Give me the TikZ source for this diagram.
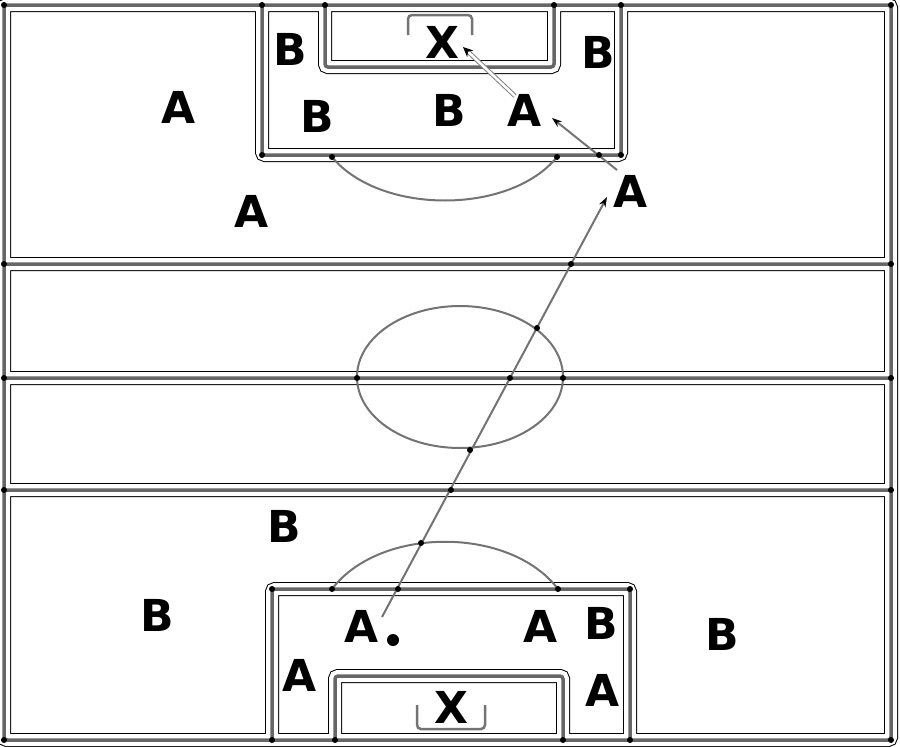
\documentclass[tikz,border=0pt]{standalone}
\usepackage{fontspec}
\setmainfont{DejaVu Sans}
\usetikzlibrary{arrows.meta}

% lines of the pitch, drawn three times (outline, gap, chalk)
\newcommand{\pitchlines}{(4,5) rectangle (891,740)
  (4,264) -- (891,264) (4,378) -- (891,378) (4,490) -- (891,490)
  (262,5) -- (262,155) -- (621,155) -- (621,5)
  (325,5) -- (325,67) -- (554,67) -- (554,5)
  (272,740) -- (272,589) -- (630,589) -- (630,740)
  (335,740) -- (335,676) -- (563,676) -- (563,740)}

\tikzset{
  player/.style={font=\fontsize{44}{44}\selectfont\bfseries, inner sep=0pt},
  chalk/.style={draw=black!55, line width=2pt},
  pass/.style={chalk, -{Stealth[length=10pt,width=7pt,black]}},
  shot/.style={draw=black!50, line width=1pt, double=white, double distance=2.5pt,
    -{Stealth[length=10pt,width=9pt,black]}},
}

\begin{document}
\begin{tikzpicture}[x=1pt,y=-1pt]
  \useasboundingbox (0,0) rectangle (900,747);

  \draw[line width=14pt, rounded corners=3pt] \pitchlines;
  \draw[white, line width=12pt, rounded corners=3pt] \pitchlines;
  \draw[black!60, line width=3.5pt, rounded corners=3pt] \pitchlines;

  % centre circle and the two arcs
  \draw[chalk] (460,377) ellipse [x radius=103pt, y radius=71pt];
  \draw[chalk] (332,157) .. controls (380,215) and (510,215) .. (557,157);
  \draw[chalk] (332,589) .. controls (380,526) and (510,526) .. (558,589);

  % goals
  \draw[black!55, line width=2.5pt, rounded corners=4pt] (408,35) -- (408,15) -- (472,15) -- (472,35);
  \draw[black!55, line width=2.5pt, rounded corners=4pt] (417,705) -- (417,729) -- (485,729) -- (485,705);

  % top half
  \node[player] (xtop) at (442,42) {X};
  \node[player] (b1) at (290,49) {B};
  \node[player] (b2) at (598,52) {B};
  \node[player] (b3) at (317,116) {B};
  \node[player] (b4) at (449,110) {B};
  \node[player] (a1) at (525,110) {A};
  \node[player] (a2) at (631,191) {A};
  \node[player] (a3) at (179,107) {A};
  \node[player] (a4) at (252,211) {A};

  % bottom half
  \node[player] (xbot) at (451,707) {X};
  \node[player] (b5) at (284,526) {B};
  \node[player] (b6) at (157,615) {B};
  \node[player] (b7) at (601,623) {B};
  \node[player] (b8) at (722,634) {B};
  \node[player] (a5) at (362,626) {A};
  \node[player] (a6) at (541,626) {A};
  \node[player] (a7) at (300,675) {A};
  \node[player] (a8) at (603,690) {A};
  \node[circle, fill=black, minimum size=12pt, inner sep=0pt] (ball) at (393,640) {};

  % passes
  \coordinate (kick) at (382,617);
  \coordinate (recv) at (607,197);
  \coordinate (lay) at (617,170);
  \coordinate (layend) at (552,118);
  \coordinate (goal) at (463,47);
  \draw[pass] (kick) -- (recv);
  \draw[pass] (lay) -- (layend);
  \draw[shot] (515,96) -- (goal);

  % junction dots
  \foreach \p in {(4,5),(891,5),(4,740),(891,740),(4,264),(891,264),(4,378),(891,378),
    (4,490),(891,490),(262,5),(325,5),(554,5),(621,5),(262,155),(621,155),(332,157),(557,157),
    (599,155),(272,740),(335,740),(563,740),(630,740),(272,589),(630,589),(332,589),(558,589),
    (398,589),(421,543),(451,490),(470,450),(510,378),(537,328),(571,264),(357,378),(563,378)}
    \fill \p circle (3pt);
\end{tikzpicture}
\end{document}
